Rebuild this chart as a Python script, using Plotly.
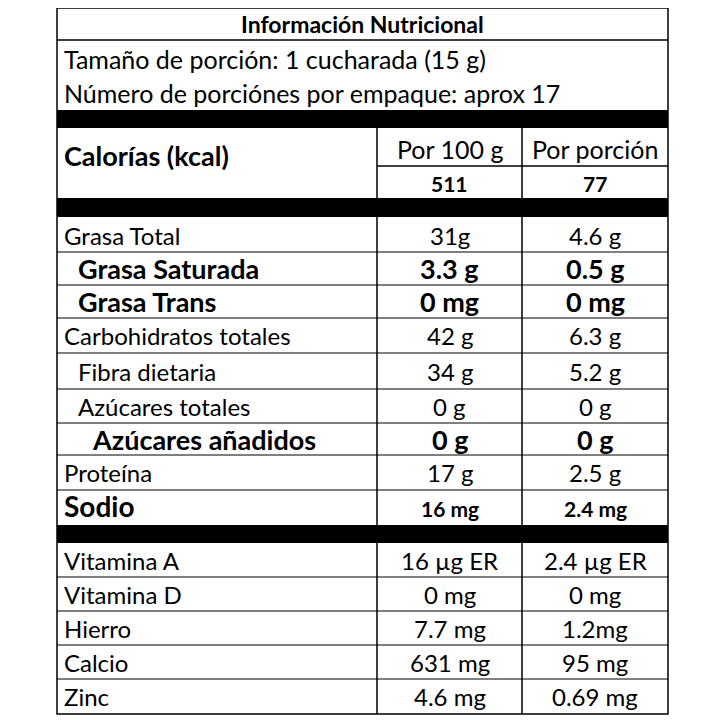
import plotly.graph_objects as go

title = "Información Nutricional"
serving_lines = ["Tamaño de porción: 1 cucharada (15 g)", "Número de porciónes por empaque: aprox 17"]
cal_label = "Calorías (kcal)"
col_heads = ["Por 100 g", "Por porción"]
cal_values = ["511", "77"]

nutrients = ["Grasa Total", "Grasa Saturada", "Grasa Trans", "Carbohidratos totales", "Fibra dietaria",
             "Azúcares totales", "Azúcares añadidos", "Proteína", "Sodio"]
per100 = ["31g", "3.3 g", "0 mg", "42 g", "34 g", "0 g", "0 g", "17 g", "16 mg"]
perportion = ["4.6 g", "0.5 g", "0 mg", "6.3 g", "5.2 g", "0 g", "0 g", "2.5 g", "2.4 mg"]

vitamins = ["Vitamina A", "Vitamina D", "Hierro", "Calcio", "Zinc"]
vit100 = ["16 µg ER", "0 mg", "7.7 mg", "631 mg", "4.6 mg"]
vitport = ["2.4 µg ER", "0 mg", "1.2mg", "95 mg", "0.69 mg"]

# styling (separate from data)
n_style = [("n", 0), ("b", 1), ("b", 1), ("n", 0), ("n", 1), ("n", 1), ("b", 2), ("n", 0), ("s", 0)]
n_bounds = [218, 252, 285, 318, 353, 389, 423, 455, 490, 525]
v_bounds = [543, 577, 611, 645, 679, 714]

L, R, C1, C2 = 57, 668, 377, 522
FONT = "Lato"
fig = go.Figure()
shapes = []
ann = []

def line(x0, y0, x1, y1, w=1.5):
    shapes.append(dict(type="line", x0=x0, y0=y0, x1=x1, y1=y1, xref="x", yref="y",
                       line=dict(color="black", width=w)))

def rect(y0, y1):
    shapes.append(dict(type="rect", x0=L, x1=R, y0=y0, y1=y1, xref="x", yref="y",
                       fillcolor="black", line=dict(width=0)))

def text(x, y, s, size, bold=False, anchor="left"):
    ann.append(dict(x=x, y=y, xref="x", yref="y", text=f"<b>{s}</b>" if bold else s, showarrow=False,
                    xanchor=anchor, yanchor="middle", font=dict(family=FONT, size=size, color="black")))

shapes.append(dict(type="rect", x0=L, x1=R, y0=8, y1=714, xref="x", yref="y", line=dict(color="black", width=1.5)))
line(L, 40, R, 40)
rect(110, 128)
rect(198, 217)
rect(525, 543)
line(C1, 128, C1, 714)
line(C2, 128, C2, 714)
line(C1, 166, R, 166)

text((L + R) / 2, 24, title, 23, True, "center")
text(62, 59, serving_lines[0], 25)
text(62, 93, serving_lines[1], 25)
text(62, 155, cal_label, 27, True)
for i, (h, v) in enumerate(zip(col_heads, cal_values)):
    cx = (C1 + C2) / 2 if i == 0 else (C2 + R) / 2
    text(cx, 149, h, 25, False, "center")
    text(cx, 183, v, 21, True, "center")

for i, (name, a, b) in enumerate(zip(nutrients, per100, perportion)):
    y0, y1 = n_bounds[i], n_bounds[i + 1]
    yc = (y0 + y1) / 2
    if i > 0:
        line(L, y0, R, y0, 1)
    st, ind = n_style[i]
    x = 62 + ind * 14
    if st == "b":
        text(x, yc, name, 27, True)
        text((C1 + C2) / 2, yc, a, 27, True, "center")
        text((C2 + R) / 2, yc, b, 27, True, "center")
    elif st == "s":
        text(x, yc - 2, name, 28, True)
        text((C1 + C2) / 2, yc + 1, a, 21, True, "center")
        text((C2 + R) / 2, yc + 1, b, 21, True, "center")
    else:
        text(x, yc, name, 24)
        text((C1 + C2) / 2, yc, a, 24, False, "center")
        text((C2 + R) / 2, yc, b, 24, False, "center")

for i, (name, a, b) in enumerate(zip(vitamins, vit100, vitport)):
    y0, y1 = v_bounds[i], v_bounds[i + 1]
    yc = (y0 + y1) / 2
    if i > 0:
        line(L, y0, R, y0, 1)
    text(62, yc, name, 24)
    text((C1 + C2) / 2, yc, a, 24, False, "center")
    text((C2 + R) / 2, yc, b, 24, False, "center")

# compensate for the 8px default page margin
fig.update_layout(width=720, height=720, margin=dict(l=0, r=0, t=0, b=0),
                  paper_bgcolor="white", plot_bgcolor="white", shapes=shapes, annotations=ann,
                  xaxis=dict(range=[8, 728], visible=False, fixedrange=True),
                  yaxis=dict(range=[728, 8], visible=False, fixedrange=True), showlegend=False)
fig.write_html("out.html")
